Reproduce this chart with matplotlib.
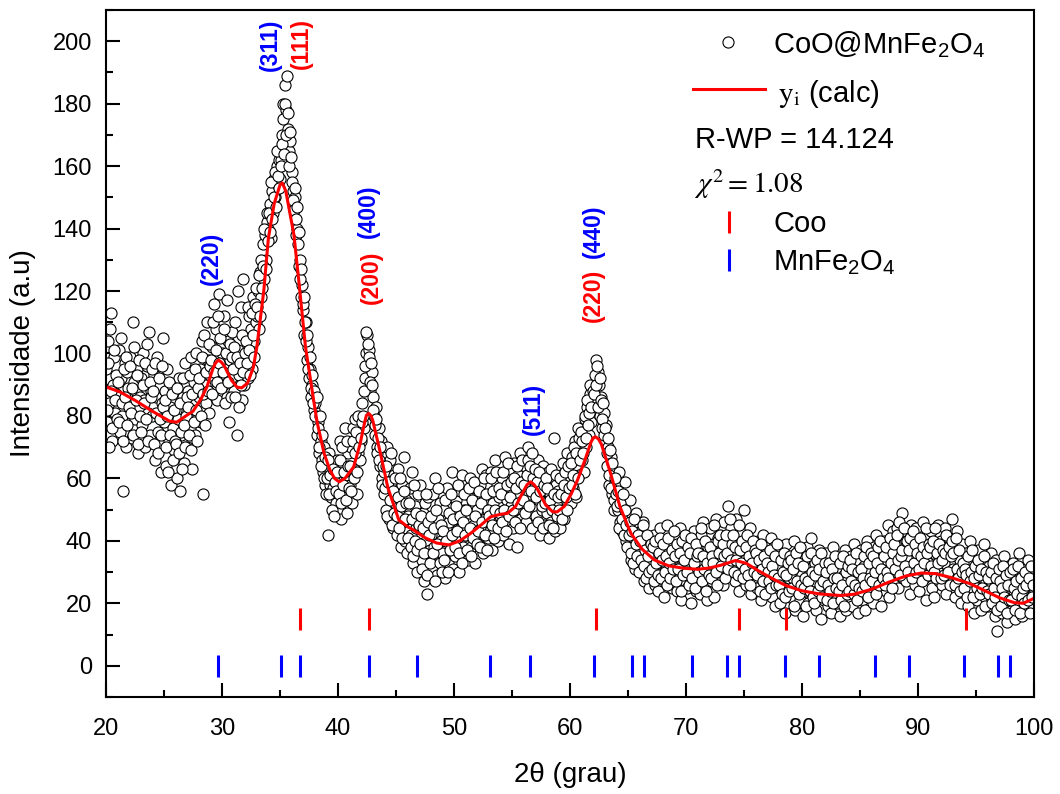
import numpy as np
import matplotlib
matplotlib.use('Agg')
import matplotlib.pyplot as plt
from matplotlib.ticker import MultipleLocator

plt.rcParams['font.family'] = ['Liberation Sans', 'DejaVu Sans']
plt.rcParams['mathtext.fontset'] = 'custom'
plt.rcParams['mathtext.rm'] = 'Liberation Sans'
plt.rcParams['mathtext.it'] = 'Liberation Sans:italic'

# observed pattern at 20.0, 20.1, ... (0.1 deg step)
obs_20_40 = [
    95, 78, 104, 84, 113, 72, 90, 99, 81, 87,
    86, 101, 75, 92, 80, 56, 97, 70, 94, 89,
    84, 99, 73, 110, 91, 79, 88, 95, 68, 86,
    92, 77, 100, 85, 70, 96, 81, 107, 74, 88,
    80, 93, 66, 86, 99, 75, 90, 62, 84, 105,
    78, 88, 64, 95, 72, 83, 58, 90, 76, 69,
    82, 60, 79, 92, 56, 74, 86, 65, 97, 80,
    70, 88, 76, 99, 63, 84, 91, 74, 100, 80,
    86, 95, 78, 104, 55, 90, 84, 110, 98, 81,
    93, 102, 88, 116, 96, 108, 85, 119, 99, 92,
    100, 90, 112, 95, 86, 104, 78, 98, 92, 107,
    88, 110, 96, 74, 101, 93, 115, 85, 124, 90,
    98, 105, 92, 112, 100, 108, 95, 118, 104, 110,
    112, 120, 108, 126, 118, 135, 124, 138, 130, 142,
    140, 148, 137, 152, 145, 156, 150, 160, 154, 162,
    156, 162, 170, 180, 186, 178, 189, 172, 165, 168,
    158, 152, 146, 150, 138, 140, 128, 130, 118, 122,
    114, 106, 110, 98, 102, 92, 95, 86, 90, 82,
    84, 80, 74, 78, 68, 72, 66, 62, 70, 58,
    64, 42, 68, 58, 54, 65, 57, 62, 52, 66]
obs_40_60 = [
    60, 50, 72, 47, 64, 56, 76, 61, 49, 68,
    58, 70, 52, 76, 63, 79, 55, 68, 74, 66,
    72, 84, 76, 92, 100, 106, 96, 101, 88, 94,
    86, 80, 74, 83, 70, 76, 64, 72, 60, 67,
    62, 50, 70, 55, 47, 66, 58, 44, 61, 52,
    56, 42, 63, 49, 38, 58, 46, 67, 40, 53,
    48, 36, 57, 42, 62, 33, 51, 44, 30, 55,
    45, 58, 34, 49, 27, 52, 40, 23, 54, 37,
    42, 31, 55, 38, 60, 29, 47, 35, 52, 40,
    36, 50, 28, 44, 57, 33, 46, 39, 62, 31,
    47, 35, 53, 41, 30, 56, 44, 61, 38, 50,
    42, 55, 34, 49, 60, 38, 52, 45, 33, 57,
    50, 39, 58, 44, 63, 36, 53, 47, 61, 41,
    55, 43, 62, 37, 52, 66, 46, 58, 40, 54,
    48, 60, 42, 56, 67, 45, 53, 39, 63, 51,
    57, 44, 65, 50, 38, 61, 54, 68, 47, 59,
    52, 64, 46, 58, 70, 55, 62, 44, 67, 57,
    61, 48, 66, 53, 42, 59, 50, 64, 45, 56,
    49, 62, 41, 55, 46, 60, 73, 43, 58, 51,
    56, 44, 61, 50, 65, 47, 59, 68, 52, 63]
obs_60_80 = [
    60, 52, 67, 57, 72, 54, 64, 76, 61, 69,
    66, 75, 62, 79, 70, 83, 74, 87, 78, 85,
    82, 89, 98, 84, 94, 90, 80, 86, 76, 81,
    72, 77, 64, 70, 58, 67, 55, 62, 50, 59,
    58, 50, 62, 46, 54, 43, 51, 59, 40, 48,
    48, 38, 53, 34, 46, 41, 31, 49, 37, 44,
    37, 43, 30, 46, 27, 39, 33, 41, 25, 36,
    36, 30, 42, 26, 35, 39, 24, 33, 44, 29,
    34, 22, 38, 31, 45, 27, 33, 40, 25, 36,
    30, 41, 24, 35, 28, 44, 21, 33, 38, 27,
    37, 25, 40, 31, 20, 35, 29, 43, 32, 24,
    28, 39, 23, 42, 33, 46, 26, 36, 21, 38,
    31, 44, 27, 39, 22, 35, 47, 30, 41, 34,
    37, 43, 26, 46, 33, 40, 51, 29, 38, 44,
    35, 41, 27, 47, 32, 38, 24, 43, 36, 30,
    50, 34, 26, 39, 31, 44, 23, 37, 28, 35,
    33, 25, 40, 29, 36, 21, 42, 31, 27, 38,
    24, 35, 29, 41, 22, 33, 38, 19, 30, 36,
    31, 20, 37, 27, 34, 17, 39, 25, 32, 28,
    22, 35, 28, 40, 18, 31, 25, 37, 21, 33]
obs_80_100 = [
    29, 16, 34, 24, 38, 20, 31, 26, 41, 23,
    27, 33, 18, 30, 23, 37, 15, 28, 35, 21,
    24, 36, 19, 29, 32, 17, 27, 38, 22, 30,
    20, 31, 26, 16, 34, 23, 29, 37, 18, 27,
    30, 22, 35, 19, 28, 39, 24, 33, 17, 29,
    26, 37, 21, 32, 18, 30, 40, 25, 34, 23,
    33, 20, 38, 27, 42, 24, 35, 29, 19, 36,
    28, 40, 24, 34, 45, 22, 37, 31, 43, 26,
    38, 30, 44, 25, 36, 41, 49, 28, 39, 33,
    27, 42, 34, 23, 45, 31, 38, 26, 44, 35,
    37, 24, 40, 32, 46, 28, 35, 21, 42, 33,
    29, 43, 25, 36, 22, 39, 31, 45, 27, 34,
    40, 26, 33, 44, 23, 37, 29, 41, 30, 47,
    31, 38, 22, 35, 43, 27, 34, 20, 39, 29,
    24, 36, 28, 19, 33, 40, 25, 31, 17, 35,
    30, 21, 37, 26, 18, 33, 28, 39, 22, 27,
    19, 32, 25, 36, 21, 29, 16, 34, 11, 27,
    22, 30, 17, 27, 35, 20, 25, 14, 31, 23,
    28, 18, 33, 24, 15, 29, 21, 36, 19, 26,
    16, 27, 22, 31, 18, 34, 24, 20, 29, 23,
    25]

# observed pattern at the half steps 20.05, 20.15, ...
mid_20_40 = [
    82, 97, 70, 108, 88, 76, 101, 85, 93, 79,
    91, 78, 105, 84, 72, 95, 86, 99, 77, 83,
    96, 81, 89, 74, 102, 85, 93, 71, 98, 80,
    75, 90, 84, 97, 79, 103, 72, 91, 86, 95,
    88, 71, 97, 81, 68, 92, 79, 74, 96, 83,
    85, 70, 80, 62, 91, 74, 87, 66, 82, 72,
    71, 89, 68, 84, 75, 63, 92, 77, 70, 86,
    83, 74, 93, 69, 87, 78, 95, 82, 72, 89,
    92, 80, 99, 87, 106, 77, 94, 88, 103, 96,
    98, 87, 110, 94, 101, 91, 112, 97, 105, 89,
    94, 108, 84, 100, 117, 91, 103, 86, 99, 95,
    102, 86, 99, 120, 83, 97, 90, 106, 94, 100,
    104, 97, 115, 101, 93, 113, 106, 99, 116, 121,
    115, 125, 112, 130, 121, 128, 140, 127, 145, 136,
    145, 139, 155, 143, 150, 158, 147, 165, 157, 153,
    160, 167, 175, 164, 180, 170, 177, 160, 171, 163,
    155, 149, 153, 143, 147, 135, 139, 124, 127, 116,
    118, 110, 104, 106, 95, 99, 89, 93, 84, 88,
    80, 86, 76, 70, 80, 64, 74, 60, 67, 55,
    60, 66, 55, 61, 50, 63, 48, 59, 56, 62]
mid_40_60 = [
    55, 66, 52, 70, 58, 62, 53, 72, 64, 57,
    64, 56, 72, 60, 68, 75, 62, 80, 70, 73,
    78, 80, 88, 96, 107, 103, 99, 91, 97, 90,
    82, 77, 79, 68, 73, 66, 70, 58, 64, 55,
    57, 64, 48, 59, 53, 68, 45, 56, 49, 60,
    48, 54, 44, 60, 51, 41, 56, 47, 52, 36,
    41, 52, 38, 47, 35, 58, 40, 49, 37, 45,
    39, 48, 31, 44, 36, 55, 29, 46, 42, 33,
    48, 36, 44, 27, 50, 39, 57, 33, 45, 30,
    43, 34, 53, 40, 30, 49, 37, 55, 42, 47,
    38, 51, 43, 58, 36, 48, 33, 46, 55, 42,
    50, 37, 57, 44, 35, 53, 41, 59, 48, 39,
    43, 56, 38, 52, 46, 60, 42, 55, 37, 50,
    48, 60, 45, 56, 41, 50, 62, 44, 57, 49,
    55, 46, 62, 50, 43, 58, 65, 48, 54, 59,
    50, 60, 46, 57, 64, 52, 44, 59, 66, 53,
    58, 49, 61, 66, 51, 64, 56, 68, 60, 63,
    54, 59, 46, 62, 56, 51, 44, 58, 52, 60,
    57, 45, 53, 63, 50, 44, 55, 61, 48, 54,
    50, 60, 55, 47, 58, 62, 54, 50, 64, 57]
mid_60_80 = [
    65, 58, 61, 70, 55, 68, 60, 73, 66, 75,
    72, 68, 80, 73, 85, 77, 81, 90, 83, 88,
    87, 93, 90, 96, 83, 92, 85, 79, 84, 74,
    76, 68, 73, 61, 69, 57, 65, 53, 60, 55,
    51, 56, 44, 52, 47, 55, 42, 50, 45, 38,
    42, 46, 36, 43, 33, 47, 39, 35, 42, 30,
    40, 34, 45, 32, 37, 28, 42, 35, 30, 39,
    31, 38, 27, 40, 33, 29, 36, 41, 28, 34,
    39, 30, 35, 26, 41, 33, 28, 37, 31, 43,
    35, 27, 39, 31, 36, 24, 40, 29, 34, 42,
    30, 38, 26, 36, 41, 28, 33, 25, 39, 35,
    36, 30, 44, 27, 35, 31, 40, 24, 33, 29,
    38, 28, 35, 33, 45, 30, 26, 40, 36, 42,
    32, 39, 35, 28, 42, 36, 31, 47, 34, 39,
    42, 30, 38, 34, 29, 45, 37, 33, 40, 28,
    31, 38, 42, 29, 35, 26, 33, 40, 30, 37,
    36, 29, 34, 24, 39, 31, 27, 35, 23, 33,
    30, 27, 37, 25, 32, 29, 35, 26, 39, 28,
    26, 34, 23, 30, 36, 22, 29, 33, 24, 35,
    34, 25, 31, 19, 36, 27, 33, 23, 38, 26]
mid_80_100 = [
    32, 25, 28, 19, 35, 27, 24, 36, 30, 22,
    20, 29, 34, 24, 31, 26, 36, 22, 27, 33,
    30, 21, 26, 33, 24, 31, 20, 28, 35, 25,
    28, 24, 33, 21, 26, 35, 19, 30, 23, 32,
    24, 34, 27, 31, 23, 26, 36, 21, 30, 25,
    31, 24, 28, 35, 26, 38, 22, 33, 28, 36,
    27, 35, 30, 23, 33, 38, 26, 40, 31, 28,
    35, 26, 38, 30, 28, 41, 33, 25, 36, 39,
    31, 42, 34, 46, 29, 35, 37, 44, 32, 40,
    40, 30, 37, 41, 28, 43, 33, 39, 30, 36,
    31, 41, 35, 27, 38, 33, 44, 36, 29, 39,
    38, 32, 40, 30, 44, 28, 36, 33, 39, 28,
    34, 37, 29, 36, 42, 30, 38, 26, 35, 40,
    36, 26, 41, 31, 28, 37, 24, 30, 33, 25,
    31, 29, 22, 35, 27, 30, 37, 22, 28, 32,
    25, 34, 29, 23, 31, 25, 35, 19, 30, 24,
    28, 23, 30, 20, 33, 25, 22, 28, 18, 31,
    27, 19, 25, 32, 22, 29, 17, 26, 21, 30,
    21, 31, 25, 18, 27, 23, 32, 17, 28, 22,
    25, 20, 30, 26, 21, 28, 17, 32, 22, 26]

# calculated profile
calc_x = [20.0, 21.2, 22.5, 24.0, 25.5, 26.1, 27.0, 27.5, 28.2, 28.7, 29.2, 29.45, 29.7,
          29.95, 30.2, 30.8, 31.3, 31.7, 32.2, 32.7, 33.0, 33.3, 33.6, 34.0, 34.5, 35.0,
          35.2, 35.5, 36.2, 36.6, 37.2, 37.9, 38.2, 38.8, 39.3, 39.7, 40.1, 40.6, 41.35,
          41.9, 42.3, 42.45, 42.65, 42.85, 43.0, 43.66, 44.3, 45.24, 46.0, 46.5, 47.5,
          48.5, 49.56, 50.5, 51.43, 52.3, 53.16, 54.0, 54.6, 55.3, 56.0, 56.3, 56.6, 56.9,
          57.2, 57.9, 58.5, 58.9, 59.5, 60.1, 60.65, 61.3, 61.8, 62.0, 62.2, 62.45, 62.7,
          63.5, 64.3, 65.25, 66.2, 67.26, 68.5, 69.85, 71.0, 72.0, 73.0, 74.27, 75.2,
          76.2, 77.4, 78.6, 80.0, 81.5, 83.3, 84.5, 86.0, 87.5, 89.0, 90.3, 91.5, 92.8,
          94.4, 95.5, 97.0, 98.3, 99.07, 100.0]
calc_y = [89.3, 87.7, 85.0, 81.5, 78.3, 78.0, 80.3, 81.5, 85.5, 89.3, 95.0, 97.0, 97.9,
          97.2, 96.0, 91.5, 89.2, 89.0, 90.5, 95.5, 102, 111, 120, 137, 148, 154,
          154.6, 152, 138, 124, 102, 85, 78, 68, 62.7, 60, 58.9, 60, 63.7,
          71, 78, 80.2, 80.8, 80.0, 78.5, 68, 57, 46.7, 44.5, 43.5, 41,
          39.3, 38.7, 40, 42.4, 45, 47.7, 48.5, 48.8, 51, 56, 58.0, 58.9, 58.0,
          56.5, 51.5, 49.3, 49.3, 51, 55, 59.5, 66, 71.5, 73.0, 73.3, 72.6, 71,
          61.6, 51, 42.4, 37.4, 33.9, 32, 31.2, 30.9, 31.3, 32.2, 33.7, 32.8,
          30.5, 28, 25.7, 24, 23, 22.5, 22.9, 24.5, 26.8, 28.8, 29.7, 29.5, 28.3,
          26.4, 24.5, 21.8, 20.2, 20.0, 21.6]

# reflection positions
coo_pos = [36.69, 42.7, 62.2, 74.6, 78.6, 94.1]
mnfe_pos = [29.67, 35.05, 36.69, 42.68, 46.79, 53.06, 56.56, 62.08, 65.35, 66.39,
            70.5, 73.56, 74.54, 78.55, 81.49, 86.3, 89.2, 94.0, 96.9, 97.95]

# hkl labels: text, x, bottom y, colour
hkl_text = ['(220)', '(311)', '(111)', '(400)', '(200)', '(511)', '(440)', '(220)']
hkl_x = [29.1, 34.2, 36.8, 42.6, 42.9, 56.8, 62.0, 62.0]
hkl_y = [122, 190.5, 191, 137, 116, 74, 130.5, 110]
hkl_col = ['blue', 'blue', 'red', 'blue', 'red', 'blue', 'blue', 'red']

obs = np.array(obs_20_40 + obs_40_60 + obs_60_80 + obs_80_100, dtype=float)
theta = np.linspace(20, 100, len(obs))
mid = np.array(mid_20_40 + mid_40_60 + mid_60_80 + mid_80_100, dtype=float)
theta_mid = theta[:-1] + 0.05

fig = plt.figure(figsize=(10.6, 7.94), dpi=100)
ax = fig.add_axes([0.1, 0.1222, 0.8755, 0.8652])

ax.plot(np.concatenate([theta, theta_mid]), np.concatenate([obs, mid]), 'o',
        mfc='white', mec='black', ms=8, mew=0.8, ls='none')
ax.plot(calc_x, calc_y, '-', color='#ff0000', lw=2.2)
ax.plot(coo_pos, [15] * len(coo_pos), '|', color='#ff0000', ms=16, mew=2.2)
ax.plot(mnfe_pos, [0] * len(mnfe_pos), '|', color='#0000ff', ms=16, mew=2.2)

for t, x, y, c in zip(hkl_text, hkl_x, hkl_y, hkl_col):
    ax.text(x, y, t, rotation=90, ha='center', va='bottom', color=c,
            fontsize=16.5, fontweight='bold')

ax.set_xlim(20, 100)
ax.set_ylim(-10, 210)
ax.xaxis.set_major_locator(MultipleLocator(10))
ax.xaxis.set_minor_locator(MultipleLocator(5))
ax.yaxis.set_major_locator(MultipleLocator(20))
ax.yaxis.set_minor_locator(MultipleLocator(10))
ax.tick_params(which='both', direction='in', width=1.5, labelsize=17)
ax.tick_params(which='major', length=10)
ax.tick_params(which='minor', length=5)
ax.tick_params(axis='x', pad=15)
ax.tick_params(axis='y', pad=10)
for s in ax.spines.values():
    s.set_linewidth(1.5)

ax.set_xlabel('2θ (grau)', fontsize=20, labelpad=16)
ax.set_ylabel('Intensidade (a.u)', fontsize=20, labelpad=12)

# legend block
tr = ax.transAxes
ax.plot([0.6703], [0.9534], 'o', mfc='white', mec='black', ms=8, mew=0.8, transform=tr, clip_on=False)
ax.text(0.7188, 0.937, r'CoO@MnFe$_2$O$_4$', fontsize=21, transform=tr)
ax.plot([0.6325, 0.7101], [0.885, 0.885], '-', color='#ff0000', lw=2.2, transform=tr)
ax.text(0.7245, 0.8666, r'$\mathrm{y}_\mathrm{i}$ (calc)', fontsize=21, transform=tr,
        math_fontfamily='stix')
ax.text(0.6347, 0.7987, 'R-WP = 14.124', fontsize=21, transform=tr)
ax.text(0.6336, 0.7332, r'$\chi^2 = 1.08$', fontsize=21, transform=tr,
        math_fontfamily='stix')
ax.plot([0.6713], [0.6914], '|', color='#ff0000', ms=16, mew=2.2, transform=tr)
ax.text(0.7188, 0.6773, 'Coo', fontsize=21, transform=tr)
ax.plot([0.6713], [0.636], '|', color='#0000ff', ms=16, mew=2.2, transform=tr)
ax.text(0.7188, 0.6215, r'MnFe$_2$O$_4$', fontsize=21, transform=tr)

fig.savefig('out.png', dpi=100)
